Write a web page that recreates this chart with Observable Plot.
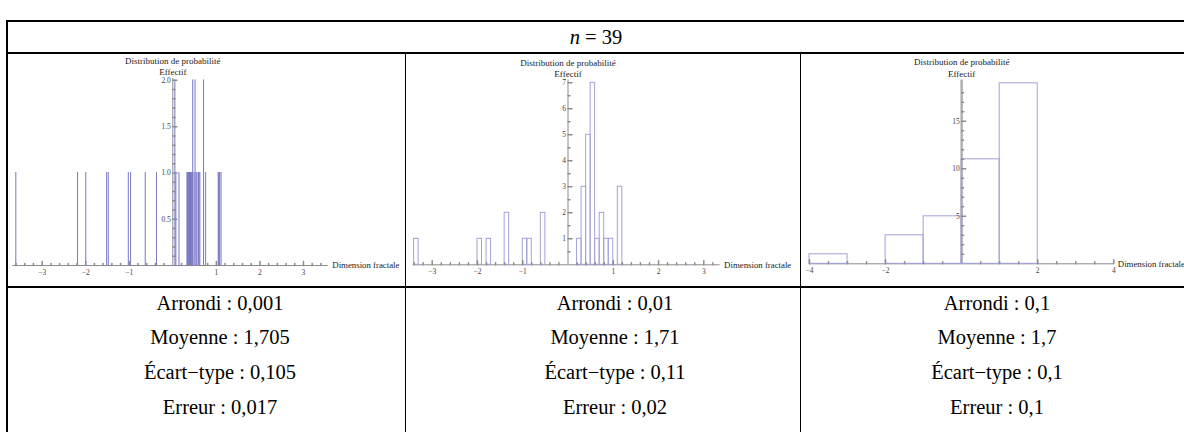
<!DOCTYPE html>
<html><head><meta charset="utf-8">
<script src="https://cdn.jsdelivr.net/npm/d3@7"></script>
<script src="https://cdn.jsdelivr.net/npm/@observablehq/plot@0.6"></script>
<style>
body{margin:0;background:#fff;}
#page{position:relative;width:1184px;height:432px;overflow:hidden;background:#fff;font-family:"Liberation Serif","Times New Roman",serif;}
.ln{position:absolute;background:#000;}
.txt{position:absolute;text-align:center;font-size:20.5px;color:#000;white-space:nowrap;}
.plot{position:absolute;}
</style></head><body><div id="page"></div>
<script>
// ---- data ----
const nLabel = "39";
const roundings = ["0,001", "0,01", "0,1"];
const means = ["1,705", "1,71", "1,7"];
const stdevs = ["0,105", "0,11", "0,1"];
const errors = ["0,017", "0,02", "0,1"];

// panel 1: values rounded at 0.001
const values1 = [-3.594, -2.176, -1.988, -1.508, -1.472, -1.012, -0.958, -0.623, -0.364,
  0.058, 0.058, 0.081, 0.152, 0.335, 0.352, 0.362, 0.378, 0.392, 0.405, 0.414, 0.437, 0.455,
  0.468, 0.468, 0.497, 0.521, 0.521, 0.546, 0.565, 0.598, 0.611, 0.632, 0.717, 0.717, 0.765,
  1.052, 1.068, 1.086, 1.118];
const binWidth1 = 0.001;
// panel 2: bins of 0.1
const binStarts2 = [-3.4, -2.0, -1.8, -1.4, -1.0, -0.9, -0.6, 0.2, 0.3, 0.4, 0.5, 0.6, 0.7, 0.8, 0.9, 1.1];
const counts2 = [1, 1, 1, 2, 1, 1, 2, 1, 3, 5, 7, 1, 2, 1, 1, 3];
const binWidth2 = 0.1;
// panel 3: bins of 1
const binStarts3 = [-4, -3, -2, -1, 0, 1];
const counts3 = [1, 0, 3, 5, 11, 19];
const binWidth3 = 1;

// tick labels
const xTicks12 = [-3, -2, -1, 1, 2, 3];
const xTicks3 = [-4, -2, 2, 4];
const yTicks1 = [0.5, 1.0, 1.5, 2.0];
const yTicks2 = [1, 2, 3, 4, 5, 6, 7];
const yTicks3 = [5, 10, 15];

// ---- build ----
const page = document.getElementById("page");
function line(x, y, w, h) {
  const d = document.createElement("div");
  d.className = "ln";
  Object.assign(d.style, {left: x + "px", top: y + "px", width: w + "px", height: h + "px"});
  page.appendChild(d);
}
function txt(html, cx, y) {
  const d = document.createElement("div");
  d.className = "txt";
  d.innerHTML = html;
  Object.assign(d.style, {left: (cx - 200) + "px", top: y + "px", width: "400px", lineHeight: "22px"});
  page.appendChild(d);
}

const L = 6, T = 20, H1 = 52, H2 = 286, C1 = 405, C2 = 800, R = 1184;
line(L, T, R - L, 2);
line(L, H1, R - L, 1.5);
line(L, H2, R - L, 1.5);
line(L, T, 2, 432 - T);
line(C1, H1, 1, 432 - H1);
line(C2, H1, 1, 432 - H1);
txt(`<i>n</i> = ${nLabel}`, 596, (T + H1) / 2 - 10);

const centers = [220, 615, 997];
centers.forEach((cx, i) => {
  txt(`Arrondi : ${roundings[i]}`, cx, 292);
  txt(`Moyenne : ${means[i]}`, cx, 326);
  txt(`Écart−type : ${stdevs[i]}`, cx, 361);
  txt(`Erreur : ${errors[i]}`, cx, 396);
});

const tickShape = {draw(ctx, l) { ctx.moveTo(0, 0); ctx.lineTo(0, -l); }};
const axisColor = "#8c8c8c";
const serif = "'Liberation Serif', 'Times New Roman', serif";
const fmtX = d => (d < 0 ? "−" : "") + Math.abs(d);

function panel(o) {
  const svg = Plot.plot({
    width: o.width, height: o.height,
    marginLeft: o.ml, marginRight: o.mr, marginTop: o.mt, marginBottom: o.mb,
    x: {domain: o.xDomain, axis: null}, y: {domain: o.yDomain, axis: null},
    style: {fontFamily: serif, background: "transparent", overflow: "visible"},
    marks: [
      Plot.ruleY([0], {stroke: axisColor}),
      Plot.ruleX([0], {stroke: o.yAxisColor || axisColor, strokeWidth: o.yAxisWidth || 1}),
      Plot.rect(o.bars, {x1: "x1", x2: "x2", y1: 0, y2: "count", ...o.barStyle}),
      Plot.vector(o.xMinor, {x: d => d, y: 0, length: 2, anchor: "start", shape: tickShape, stroke: axisColor, fill: "none"}),
      Plot.vector(o.xTicks, {x: d => d, y: 0, length: 4, anchor: "start", shape: tickShape, stroke: axisColor, fill: "none"}),
      Plot.vector(o.yMinor, {x: 0, y: d => d, rotate: 90, length: 2, anchor: "start", shape: tickShape, stroke: axisColor, fill: "none"}),
      Plot.vector(o.yTicks, {x: 0, y: d => d, rotate: 90, length: 4, anchor: "start", shape: tickShape, stroke: axisColor, fill: "none"}),
      Plot.text(o.xTicks, {x: d => d, y: 0, text: fmtX, dy: 7, fontSize: 7.5, fill: "#444", fontFamily: serif}),
      Plot.text(o.yTicks, {x: 0, y: d => d, text: o.yFmt, textAnchor: "end", dx: -2, fontSize: 7.5, fill: "#444", fontFamily: serif}),
      Plot.text(["Distribution de probabilité"], {x: 0, frameAnchor: "top", text: d => d, dy: -21, fontSize: 9, fill: "#222", fontFamily: serif}),
      Plot.text(["Effectif"], {x: 0, frameAnchor: "top", text: d => d, dy: -9.5, fontSize: 9, fill: "#222", fontFamily: serif}),
      Plot.text(["Dimension fractale"], {frameAnchor: "right", y: 0, text: d => d, textAnchor: "start", dx: 4, fontSize: 8.8, fill: "#222", fontFamily: serif})
    ]
  });
  svg.classList.add("plot");
  svg.style.left = o.left + "px";
  svg.style.top = H1 + "px";
  page.appendChild(svg);
}

const bars1 = d3.rollups(values1, v => v.length, d => d).map(([v, c]) => ({x1: v, x2: v + binWidth1, count: c}));
const bars2 = binStarts2.map((s, i) => ({x1: s, x2: s + binWidth2, count: counts2[i]}));
const bars3 = binStarts3.map((s, i) => ({x1: s, x2: s + binWidth3, count: counts3[i]})).filter(d => d.count > 0);
const PH = H2 - H1;

panel({left: L, width: C1 - L, height: PH, ml: 6.5, mr: 77.2, mt: 78 - H1, mb: H2 - 265,
  xDomain: [-3.67, 3.57], yDomain: [0, 2.02], bars: bars1,
  barStyle: {fill: "#b4b4e2", stroke: "#7070c2", strokeWidth: 0.9},
  xTicks: xTicks12, xMinor: d3.range(-3.6, 3.6, 0.2).filter(d => Math.abs(d - Math.round(d)) > 0.01),
  yTicks: yTicks1, yMinor: d3.range(0.1, 2.0, 0.1).filter(d => Math.abs(d * 2 - Math.round(d * 2)) > 0.01),
  yFmt: d3.format(".1f")});

panel({left: C1, width: C2 - C1, height: PH, ml: 7.7, mr: 80.4, mt: 79.7 - H1, mb: H2 - 264.3,
  xDomain: [-3.42, 3.36], yDomain: [0, 7.1], bars: bars2,
  barStyle: {fill: "none", stroke: "#a2a2d9", strokeWidth: 1},
  xTicks: xTicks12, xMinor: d3.range(-3.4, 3.4, 0.2).filter(d => Math.abs(d - Math.round(d)) > 0.01),
  yTicks: yTicks2, yMinor: d3.range(0.5, 7, 1),
  yFmt: d => String(d)});

panel({left: C2, width: R - C2, height: PH, ml: 9, mr: 70.7, mt: 79.5 - H1, mb: H2 - 263.3,
  xDomain: [-4, 4], yDomain: [0, 19.35], bars: bars3,
  barStyle: {fill: "none", stroke: "#a2a2d9", strokeWidth: 1},
  xTicks: xTicks3, xMinor: d3.range(-3.5, 4, 0.5).filter(d => d % 2 !== 0),
  yTicks: yTicks3, yMinor: d3.range(1, 19, 1).filter(d => d % 5 !== 0),
  yFmt: d => String(d), yAxisWidth: 2.5, yAxisColor: "#b0b0b0"});
</script></body></html>
